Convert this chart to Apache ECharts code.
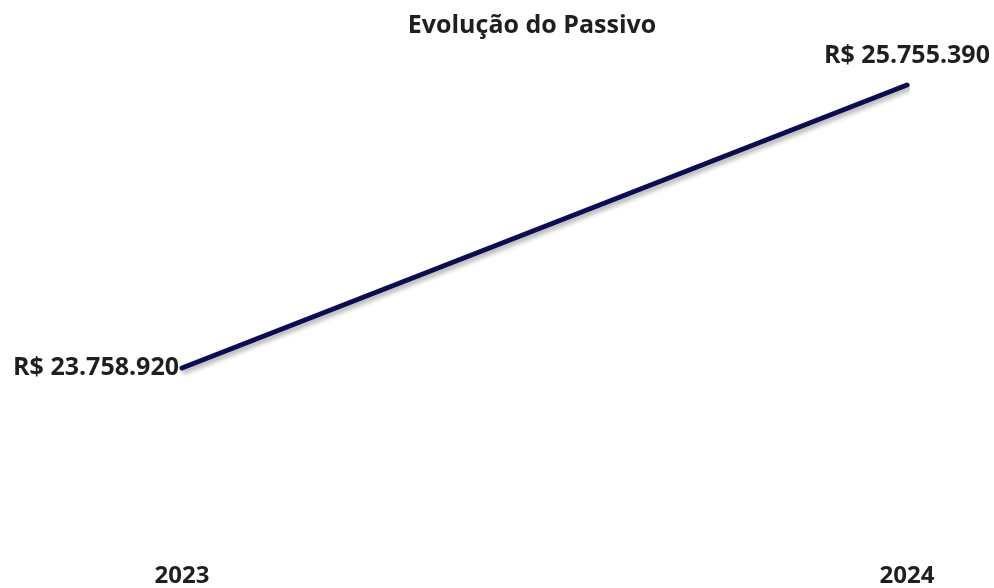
<!DOCTYPE html>
<html><head><meta charset="utf-8">
<script src="https://cdn.jsdelivr.net/npm/echarts@6/dist/echarts.min.js"></script>
<style>html,body{margin:0;padding:0;background:#fff}#c{width:994px;height:588px}</style>
</head><body><div id="c"></div>
<script>
const categories = ['2023', '2024'];
const passivo = [23758920, 25755390];
const chartTitle = 'Evolução do Passivo';

function fmt(v){ return 'R$ ' + v.toString().replace(/\B(?=(\d{3})+(?!\d))/g, '.'); }

const txt = {fontFamily: 'Open Sans', fontWeight: 'bold', fontSize: 25, color: '#1f1f1f'};
const chart = echarts.init(document.getElementById('c'), null, {renderer:'canvas'});
chart.setOption({
  backgroundColor: '#ffffff',
  animation: false,
  title: {
    text: chartTitle,
    left: 527, top: 8, textAlign: 'center',
    textStyle: {fontFamily: 'Open Sans', fontWeight: 'bold', fontSize: 25, color: '#1f1f1f'}
  },
  grid: {left: 182, right: 87, top: 40, bottom: 33},
  xAxis: {
    type: 'category', data: categories, boundaryGap: false,
    axisLine: {show: false}, axisTick: {show: false}, splitLine: {show: false},
    axisLabel: Object.assign({}, txt, {fontSize: 24, margin: 9})
  },
  yAxis: {
    type: 'value', min: 22439700, max: 26072850, show: false, splitLine: {show: false}
  },
  series: [{
    type: 'line', data: passivo, symbol: 'none', showSymbol: false,
    lineStyle: {color: '#0c0c50', width: 5, cap: 'round',
      shadowColor: 'rgba(0,0,0,0.35)', shadowBlur: 5, shadowOffsetX: 2, shadowOffsetY: 3}
  }, {
    type: 'scatter', symbolSize: 0, silent: true,
    itemStyle: {opacity: 1},
    data: [
      {value: passivo[0], label: Object.assign({show: true, position: 'left', distance: 3, formatter: p => fmt(p.value)}, txt)},
      {value: passivo[1], label: Object.assign({show: true, position: 'top', distance: 17, formatter: p => fmt(p.value)}, txt)}
    ],
    emphasis: {disabled: true}
  }]
});
</script></body></html>
